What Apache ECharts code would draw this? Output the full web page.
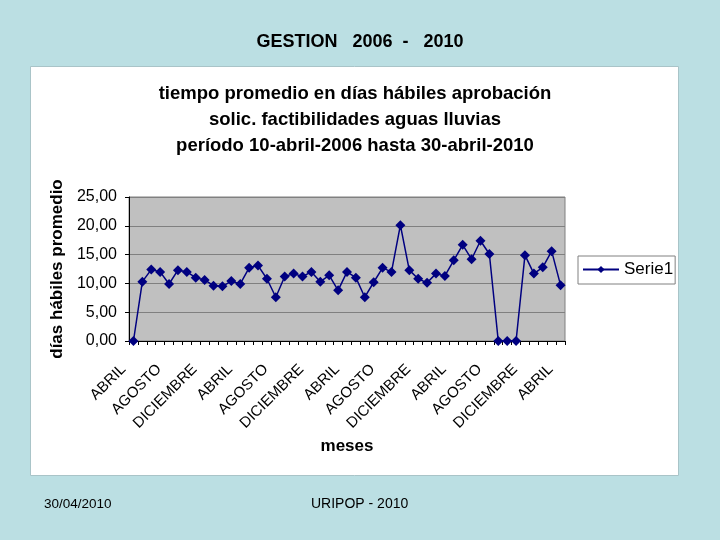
<!DOCTYPE html>
<html><head><meta charset="utf-8">
<script src="https://cdn.jsdelivr.net/npm/echarts@6/dist/echarts.min.js"></script>
<style>html,body{margin:0;padding:0;background:#BBDFE3;}#c{width:720px;height:540px;}</style>
</head><body><div id="c"></div>
<script>
const monthNames = ["ABRIL","MAYO","JUNIO","JULIO","AGOSTO","SEPTIEMBRE","OCTUBRE","NOVIEMBRE","DICIEMBRE","ENERO","FEBRERO","MARZO"];
const categories = [];
for (let i = 0; i < 49; i++) categories.push(monthNames[i % 12]);
const serie1 = [0,10.3,12.4,12.0,9.9,12.3,12.0,11.0,10.6,9.6,9.5,10.4,9.9,12.7,13.1,10.8,7.6,11.2,11.7,11.2,12.0,10.3,11.4,8.8,12.0,11.0,7.6,10.2,12.7,12.0,20.1,12.3,10.8,10.1,11.7,11.3,14.0,16.7,14.2,17.4,15.1,0,0,0,14.9,11.7,12.8,15.6,9.7];
const yTicks = [0,5,10,15,20,25];
const pageTitle = "GESTION   2006  -   2010";
const chartTitle = "tiempo promedio en días hábiles aprobación\nsolic. factibilidades aguas lluvias\nperíodo 10-abril-2006 hasta 30-abril-2010";
const footLeft = "30/04/2010", footCenter = "URIPOP - 2010";

const chart = echarts.init(document.getElementById('c'), null, {renderer:'canvas'});
const F = 'Liberation Sans, Arial, sans-serif';
chart.setOption({
  backgroundColor: '#BBDFE3',
  animation: false,
  graphic: [
    {type:'rect', z:-10, shape:{x:30.5,y:66.5,width:648,height:409}, style:{fill:'#fff', stroke:'#A9C4C8', lineWidth:1}},
    {type:'text', left:'center', top:33, style:{text:pageTitle, font:'bold 18px '+F, fill:'#000'}},
    {type:'text', left:44, top:497, style:{text:footLeft, font:'13.5px '+F, fill:'#000'}},
    {type:'text', left:311, top:497, style:{text:footCenter, font:'14px '+F, fill:'#000'}}
  ],
  title: {
    text: chartTitle, left: 355, top: 81, textAlign: 'center', padding: 0,
    textStyle: {fontFamily: F, fontWeight: 'bold', fontSize: 18.5, lineHeight: 26, color: '#000'}
  },
  legend: {
    left: 578, top: 256, orient: 'vertical',
    backgroundColor: '#fff', borderColor: '#808080', borderWidth: 1,
    padding: [5, 2, 6, 4], itemWidth: 36, itemHeight: 9, itemGap: 4,
    textStyle: {fontFamily: F, fontSize: 17, color: '#000'},
    data: ['Serie1']
  },
  grid: {left: 129, right: 155, top: 197, bottom: 199, show: true, backgroundColor: '#C0C0C0', borderColor: '#808080', borderWidth: 1},
  xAxis: {
    type: 'category', data: categories, boundaryGap: true,
    name: 'meses', nameLocation: 'middle', nameGap: 97,
    nameTextStyle: {fontFamily: F, fontWeight: 'bold', fontSize: 17, color: '#000'},
    axisLine: {lineStyle: {color: '#000', width: 1}},
    axisTick: {show: true, interval: 0, length: 4, lineStyle: {color: '#000'}},
    axisLabel: {interval: 3, rotate: 45, fontFamily: F, fontSize: 15, color: '#000', margin: 16, padding: [0, 14, 0, 0]},
    splitLine: {show: false}
  },
  yAxis: {
    type: 'value', min: 0, max: 25, interval: 5,
    name: 'días hábiles promedio', nameLocation: 'middle', nameGap: 60, nameRotate: 90,
    nameTextStyle: {fontFamily: F, fontWeight: 'bold', fontSize: 17, color: '#000'},
    axisLine: {show: true, lineStyle: {color: '#000'}},
    axisTick: {show: true, length: 4, lineStyle: {color: '#000'}},
    axisLabel: {fontFamily: F, fontSize: 16, color: '#000', margin: 12,
      formatter: v => yTicks.includes(v) ? v.toFixed(2).replace('.', ',') : ''},
    splitLine: {show: true, lineStyle: {color: '#808080', width: 1}}
  },
  series: [{
    name: 'Serie1', type: 'line', data: serie1,
    symbol: 'diamond', symbolSize: 10, showAllSymbol: true,
    lineStyle: {color: '#000080', width: 1.5},
    itemStyle: {color: '#000080'}
  }]
});
</script></body></html>
